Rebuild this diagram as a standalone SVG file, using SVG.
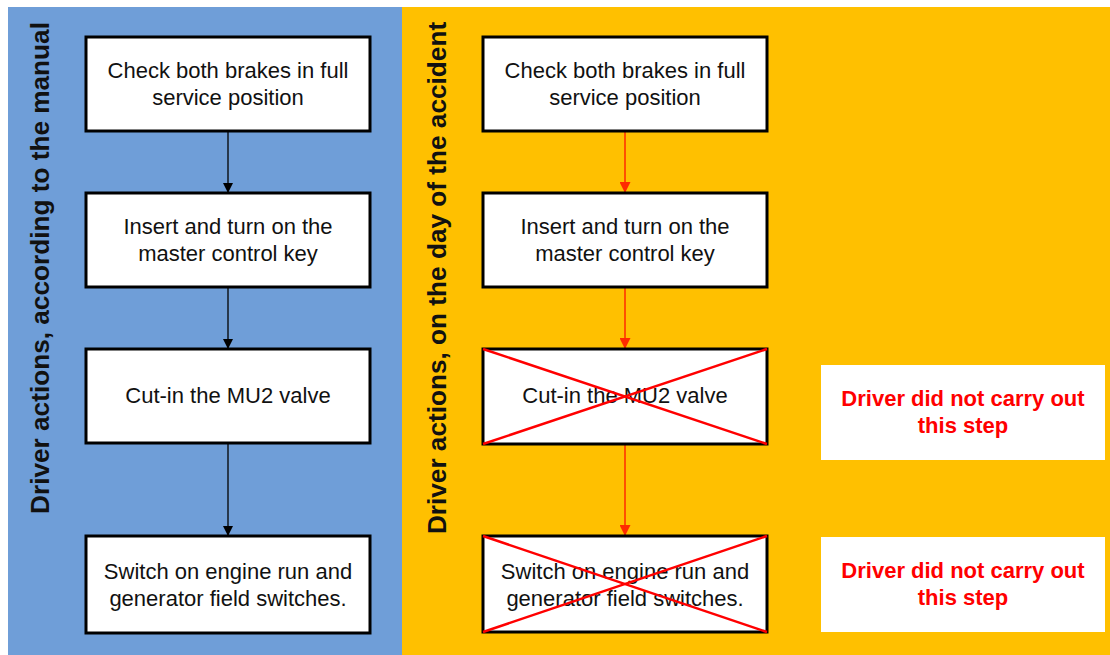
<svg xmlns="http://www.w3.org/2000/svg" width="1110" height="655" viewBox="0 0 1110 655">
<defs>
<style>
.box{fill:#fff;stroke:#000;stroke-width:3}
.t{font-family:"Liberation Sans",Arial,sans-serif;font-size:22px;fill:#111;text-anchor:middle}
.lbl{font-family:"Liberation Sans",Arial,sans-serif;font-size:26.2px;font-weight:bold;fill:#111;text-anchor:middle}
.note{fill:#fff}
.nt{font-family:"Liberation Sans",Arial,sans-serif;font-size:22px;font-weight:bold;fill:#ff0000;text-anchor:middle}
.ab{stroke:#000;stroke-width:1.3;fill:none}
.ar{stroke:#ff2a00;stroke-width:1.5;fill:none}
.x{stroke:#ff0000;stroke-width:2.5}
</style>
<marker id="mb" viewBox="0 0 10 10" refX="10" refY="5" markerWidth="10" markerHeight="10" markerUnits="userSpaceOnUse" orient="auto"><path d="M0,0L10,5L0,10z" fill="#000"/></marker>
<marker id="mr" viewBox="0 0 10 10" refX="10" refY="5" markerWidth="11" markerHeight="11" markerUnits="userSpaceOnUse" orient="auto"><path d="M0,0L10,5L0,10z" fill="#ff2a00"/></marker>
</defs>
<rect width="1110" height="655" fill="#fff"/>
<rect x="8" y="7" width="394" height="648" fill="#6f9ed8"/>
<rect x="402" y="7" width="708" height="648" fill="#ffc000"/>
<text class="lbl" transform="translate(49,268) rotate(-90)">Driver actions, according to the manual</text>
<text class="lbl" transform="translate(446,278) rotate(-90)">Driver actions, on the day of the accident</text>
<g id="connectors">
<line class="ab" x1="228" y1="131" x2="228" y2="193" marker-end="url(#mb)"/>
<line class="ab" x1="228" y1="287" x2="228" y2="349" marker-end="url(#mb)"/>
<line class="ab" x1="228" y1="443" x2="228" y2="536" marker-end="url(#mb)"/>
<line class="ar" x1="625" y1="131" x2="625" y2="193" marker-end="url(#mr)"/>
<line class="ar" x1="625" y1="287" x2="625" y2="349" marker-end="url(#mr)"/>
<line class="ar" x1="625" y1="444" x2="625" y2="536" marker-end="url(#mr)"/>
</g>
<g id="l1"><rect class="box" x="86" y="37" width="284" height="94"/><text class="t" x="228" y="78">Check both brakes in full</text><text class="t" x="228" y="105">service position</text></g>
<g id="l2"><rect class="box" x="86" y="193" width="284" height="94"/><text class="t" x="228" y="234">Insert and turn on the</text><text class="t" x="228" y="261">master control key</text></g>
<g id="l3"><rect class="box" x="86" y="349" width="284" height="94"/><text class="t" x="228" y="403">Cut-in the MU2 valve</text></g>
<g id="l4"><rect class="box" x="86" y="536" width="284" height="97"/><text class="t" x="228" y="579">Switch on engine run and</text><text class="t" x="228" y="606">generator field switches.</text></g>
<g id="r1"><rect class="box" x="483" y="37" width="284" height="94"/><text class="t" x="625" y="78">Check both brakes in full</text><text class="t" x="625" y="105">service position</text></g>
<g id="r2"><rect class="box" x="483" y="193" width="284" height="94"/><text class="t" x="625" y="234">Insert and turn on the</text><text class="t" x="625" y="261">master control key</text></g>
<g id="r3"><rect class="box" x="483" y="349" width="284" height="95"/><text class="t" x="625" y="403">Cut-in the MU2 valve</text><line class="x" x1="483" y1="349" x2="767" y2="444"/><line class="x" x1="483" y1="444" x2="767" y2="349"/></g>
<g id="r4"><rect class="box" x="483" y="536" width="284" height="96"/><text class="t" x="625" y="579">Switch on engine run and</text><text class="t" x="625" y="606">generator field switches.</text><line class="x" x1="483" y1="536" x2="767" y2="632"/><line class="x" x1="483" y1="632" x2="767" y2="536"/></g>
<g id="n1"><rect class="note" x="821" y="365" width="284" height="95"/><text class="nt" x="963" y="406">Driver did not carry out</text><text class="nt" x="963" y="433">this step</text></g>
<g id="n2"><rect class="note" x="821" y="537" width="284" height="95"/><text class="nt" x="963" y="578">Driver did not carry out</text><text class="nt" x="963" y="605">this step</text></g>
</svg>
